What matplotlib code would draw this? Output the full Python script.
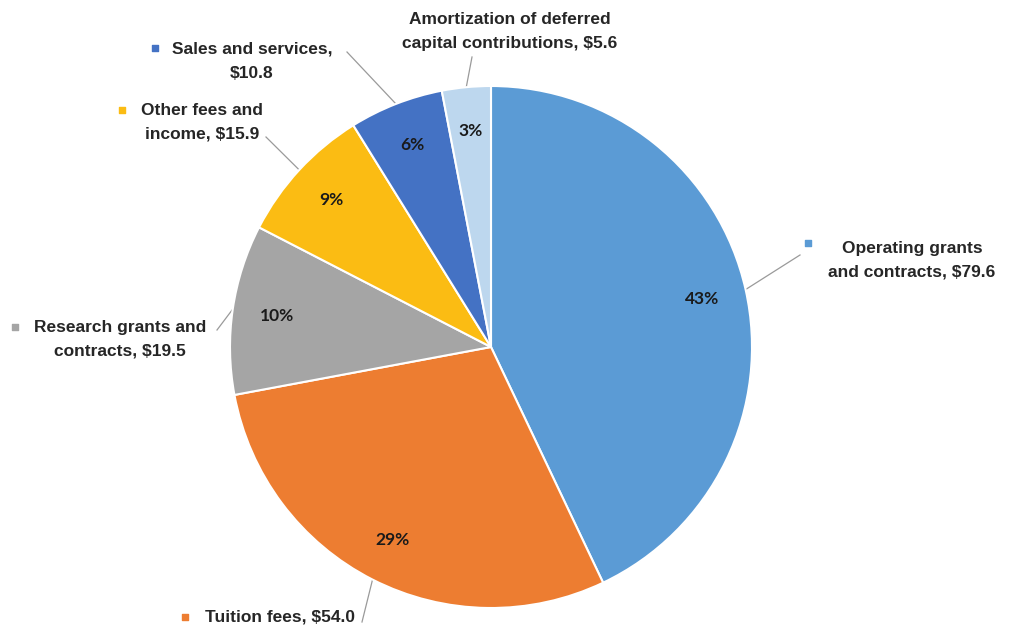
import numpy as np
import matplotlib
matplotlib.use("Agg")
import matplotlib.pyplot as plt

# revenue by source, $ millions (clockwise from the top)
sources = ["Operating grants\nand contracts", "Tuition fees", "Research grants and\ncontracts",
           "Other fees and\nincome", "Sales and services,\n", "Amortization of deferred\ncapital contributions"]
amounts = [79.6, 54.0, 19.5, 15.9, 10.8, 5.6]
pct_text = ["43%", "29%", "10%", "9%", "6%", "3%"]
colors = ["#5B9BD5", "#ED7D31", "#A5A5A5", "#FBBC13", "#4472C4", "#BDD7EE"]

# label layout: text anchor, leader start, marker position (figure pixels, y up)
label_xy = [(912, 369), (280, 12), (120, 290), (202, 507), (252, 568), (510, 598)]
leader_start = [(800, 374), (362, 7), (217, 299), (266, 492), (347, 577), (472, 572)]
marker_xy = [(808, 386), (185, 12), (15, 302), (122, 519), (155, 581), None]

W, H = 1012, 629
cx, cy, R = 491, 282, 261

fig = plt.figure(figsize=(W / 100, H / 100), dpi=100)
ax = fig.add_axes([0, 0, 1, 1])

wedges, _ = ax.pie(amounts, colors=colors, startangle=90, counterclock=False,
                   center=(cx, cy), radius=R, frame=True,
                   wedgeprops=dict(edgecolor="white", linewidth=1.5))
ax.set_xlim(0, W)
ax.set_ylim(0, H)
ax.set_aspect("equal")
ax.axis("off")

txt_kw = dict(fontsize=12.5, fontweight="bold", color="#262626",
              family=["Liberation Sans", "DejaVu Sans"], linespacing=1.75)

for i, w in enumerate(wedges):
    mid = np.deg2rad((w.theta1 + w.theta2) / 2)
    # percentage inside the slice
    ax.text(cx + 0.83 * R * np.cos(mid), cy + 0.83 * R * np.sin(mid), pct_text[i],
            ha="center", va="center", fontsize=12.5, fontweight="bold",
            color="#1a1a1a", family=["Lato", "DejaVu Sans"])

    # leader line from the label to the edge of the slice
    ex, ey = cx + R * np.cos(mid), cy + R * np.sin(mid)
    sx, sy = leader_start[i]
    ax.plot([sx, ex], [sy, ey], color="#9a9a9a", lw=0.9, zorder=0)

    name = sources[i]
    if name.endswith("\n"):
        label = f"{name}${amounts[i]:.1f}"
    else:
        label = f"{name}, ${amounts[i]:.1f}"
    lx, ly = label_xy[i]
    ax.text(lx, ly, label, ha="center", va="center", multialignment="center", **txt_kw)

    if marker_xy[i] is not None:
        ax.scatter(*marker_xy[i], marker="s", s=18, color=w.get_facecolor(), zorder=5)

fig.savefig("out.png", dpi=100)
